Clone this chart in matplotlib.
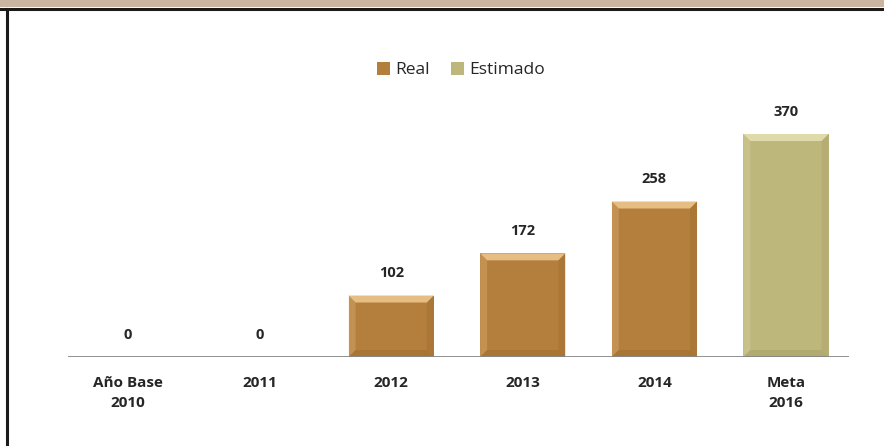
"""
Bar chart: real vs estimated values per year.
"""
import matplotlib.pyplot as plt
from matplotlib.patches import Polygon, Rectangle
from matplotlib.lines import Line2D

categories = ['Año Base\n2010', '2011', '2012', '2013', '2014', 'Meta\n2016']
values = [0, 0, 102, 172, 258, 370]
series = ['Real', 'Real', 'Real', 'Real', 'Real', 'Estimado']

COLORS = {'Real': '#B47F3D', 'Estimado': '#BEB77C'}
LIGHT = {'Real': '#E6BD82', 'Estimado': '#DFDAA9'}
DARK = {'Real': '#9E6C2E', 'Estimado': '#A8A068'}

plt.rcParams['font.family'] = ['Open Sans', 'DejaVu Sans']

fig = plt.figure(figsize=(8.84, 4.46), dpi=100)
fig.patch.set_facecolor('white')

# frame decorations: tan band on top, dark rule and left border
fig.patches.append(Rectangle((0, 1 - 7 / 446), 1, 7 / 446, transform=fig.transFigure,
                             facecolor='#CBB4A0', edgecolor='none'))
fig.lines.append(Line2D([0, 1], [1 - 8.5 / 446] * 2, transform=fig.transFigure,
                        color='#1a1a1a', lw=2.2))
fig.lines.append(Line2D([7.5 / 884] * 2, [0, 1 - 8.5 / 446], transform=fig.transFigure,
                        color='#1a1a1a', lw=2.2))

step = 131.6  # px per category
ax = fig.add_axes([68 / 884, 89 / 446, 781 / 884, 223 / 446])
ax.set_xlim(-60 / step, len(categories) - 1 + 63 / step)
ax.set_ylim(0, 370)
ax.axis('off')

width = 0.648
bx = 7 / step           # bevel in x units
by = 7 / 223 * 370      # bevel in y units
for i, (v, s) in enumerate(zip(values, series)):
    if v > 0:
        x0, x1 = i - width / 2, i + width / 2
        ax.add_patch(Rectangle((x0, 0), width, v, facecolor=COLORS[s], edgecolor='none'))
        # top bevel
        ax.add_patch(Polygon([(x0, v), (x1, v), (x1 - bx, v - by), (x0 + bx, v - by)],
                             facecolor=LIGHT[s], edgecolor='none'))
        # sides
        ax.add_patch(Polygon([(x0, v), (x0 + bx, v - by), (x0 + bx, by), (x0, 0)],
                             facecolor=LIGHT[s], edgecolor='none', alpha=0.3))
        ax.add_patch(Polygon([(x1, v), (x1 - bx, v - by), (x1 - bx, by), (x1, 0)],
                             facecolor=DARK[s], edgecolor='none', alpha=0.4))
        ax.add_patch(Polygon([(x0, 0), (x1, 0), (x1 - bx, by), (x0 + bx, by)],
                             facecolor=DARK[s], edgecolor='none', alpha=0.5))
    ax.annotate(str(v), (i, v), xytext=(0, 11), textcoords='offset points',
                ha='center', va='bottom', fontsize=10.5, fontweight='bold', color='#262626')
    ax.annotate(categories[i], (i, 0), xytext=(0, -14), textcoords='offset points',
                ha='center', va='top', fontsize=11, fontweight='bold', color='#262626',
                linespacing=1.5)

ax.axhline(0, color='#868686', lw=2)

handles = [Rectangle((0, 0), 1, 1, facecolor=COLORS['Real']),
           Rectangle((0, 0), 1, 1, facecolor=COLORS['Estimado'])]
fig.legend(handles, ['Real', 'Estimado'], loc='center', bbox_to_anchor=(461 / 884, 1 - 70 / 446),
           ncol=2, frameon=False, fontsize=12.5, handlelength=0.75, handleheight=0.75,
           handletextpad=0.3, columnspacing=1.2, labelcolor='#262626')

fig.savefig('out.png', dpi=100)
